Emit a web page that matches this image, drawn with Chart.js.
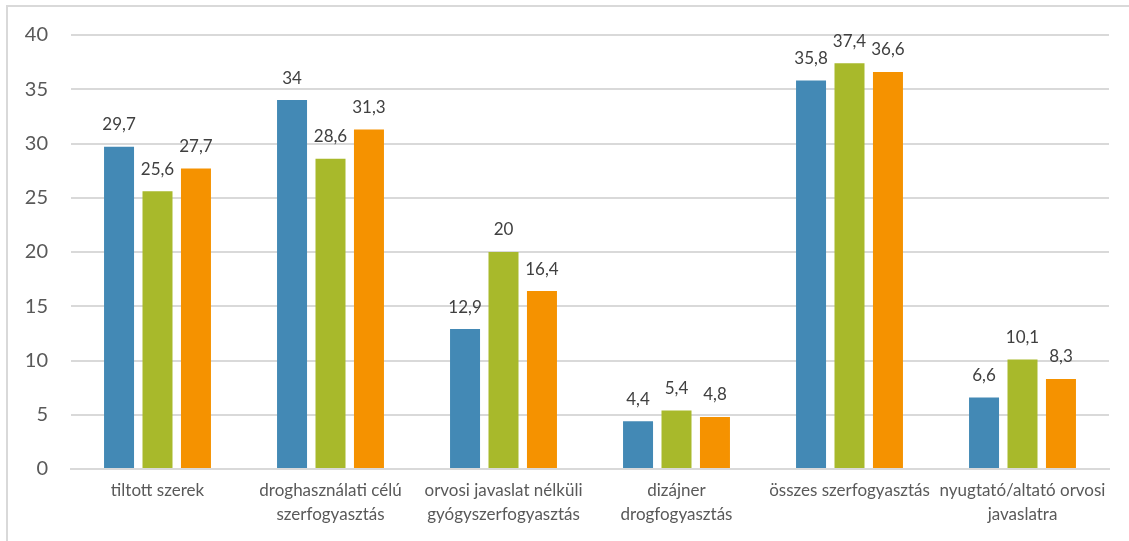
<!DOCTYPE html>
<html>
<head>
<meta charset="utf-8">
<script src="https://cdn.jsdelivr.net/npm/chart.js@4/dist/chart.umd.min.js"></script>
<style>
  html, body { margin: 0; padding: 0; background: #ffffff; }
  #wrap { position: relative; width: 1129px; height: 541px; overflow: hidden; }
  #frame { position: absolute; left: 6px; top: 5px; width: 1200px; height: 600px;
           border-left: 2px solid #d9d9d9; border-top: 2px solid #d9d9d9; box-sizing: border-box; }
  canvas { position: absolute; left: 0; top: 0; }
</style>
</head>
<body>
<div id="wrap">
  <div id="frame"></div>
  <canvas id="chart" width="1129" height="541"></canvas>
</div>
<script>
// Categories (multi-line labels split into arrays)
const categories = [
  ["tiltott szerek"],
  ["droghasználati célú", "szerfogyasztás"],
  ["orvosi javaslat nélküli", "gyógyszerfogyasztás"],
  ["dizájner", "drogfogyasztás"],
  ["összes szerfogyasztás"],
  ["nyugtató/altató orvosi", "javaslatra"]
];

// Series values
const series1 = [29.7, 34, 12.9, 4.4, 35.8, 6.6];
const series2 = [25.6, 28.6, 20, 5.4, 37.4, 10.1];
const series3 = [27.7, 31.3, 16.4, 4.8, 36.6, 8.3];

// Y axis ticks
const yTicks = [0, 5, 10, 15, 20, 25, 30, 35, 40];

const FONT = "Lato, 'Liberation Sans', sans-serif";

// Writes each bar's value above it, with a decimal comma
const valueLabels = {
  id: 'valueLabels',
  afterDatasetsDraw(chart) {
    const ctx = chart.ctx;
    ctx.save();
    ctx.font = "17px " + FONT;
    ctx.fillStyle = "#404040";
    ctx.textAlign = "center";
    ctx.textBaseline = "middle";
    chart.data.datasets.forEach((ds, i) => {
      chart.getDatasetMeta(i).data.forEach((bar, j) => {
        const txt = String(ds.data[j]).replace('.', ',');
        ctx.fillText(txt, bar.x, bar.y - 22);
      });
    });
    ctx.restore();
  }
};

new Chart(document.getElementById('chart'), {
  type: 'bar',
  data: {
    labels: categories,
    datasets: [
      { label: 'sorozat 1', data: series1, backgroundColor: '#4389b5' },
      { label: 'sorozat 2', data: series2, backgroundColor: '#a8b92b' },
      { label: 'sorozat 3', data: series3, backgroundColor: '#f59200' }
    ]
  },
  options: {
    responsive: false,
    animation: false,
    devicePixelRatio: 1,
    layout: { padding: { left: 0, right: 20, top: 35, bottom: 0 } },
    datasets: {
      bar: { barPercentage: 0.78, categoryPercentage: 0.667 }
    },
    plugins: {
      legend: { display: false },
      tooltip: { enabled: false }
    },
    scales: {
      x: {
        grid: { display: false, drawTicks: false },
        border: { display: true, color: '#d9d9d9', width: 2 },
        ticks: {
          color: '#595959',
          font: { family: FONT, size: 17, lineHeight: 1.42 },
          padding: 9,
          maxRotation: 0,
          autoSkip: false
        },
        afterFit(scale) { scale.height = 72; }
      },
      y: {
        min: 0,
        max: 40,
        afterBuildTicks(scale) { scale.ticks = yTicks.map(v => ({ value: v })); },
        grid: { color: '#d9d9d9', lineWidth: 2, drawTicks: false },
        border: { display: false },
        ticks: {
          color: '#595959',
          font: { family: FONT, size: 20 },
          padding: 23
        },
        afterFit(scale) { scale.width = 71; }
      }
    }
  },
  plugins: [valueLabels]
});
</script>
</body>
</html>
